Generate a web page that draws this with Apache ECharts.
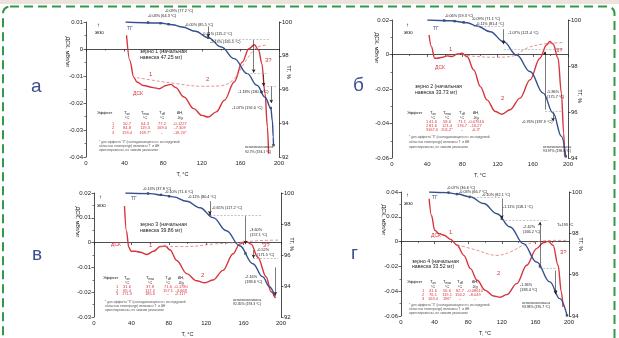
<!DOCTYPE html>
<html>
<head>
<meta charset="utf-8">
<script src="https://cdn.jsdelivr.net/npm/echarts@6/dist/echarts.min.js"></script>
<style>html,body{margin:0;padding:0;background:#fff}#chart{width:619px;height:338px}</style>
</head>
<body>
<div id="chart"></div>
<script>
// ---- панель а (зерно 1) ----
const dscA = [[42,0.0051],[45.4,-0.0042],[49.4,-0.0104],[52.8,-0.0122],[59.5,-0.0135],[69.6,-0.0143],[76.3,-0.0147],[83,-0.0135],[88,-0.0131],[93,-0.0143],[101.5,-0.0178],[111.6,-0.0221],[120,-0.0246],[126.7,-0.0252],[135,-0.0233],[143.5,-0.019],[153.6,-0.0122],[162,-0.0048],[168.7,0.0001],[174.5,0.0016],[179,-0.0005],[182.2,-0.0054],[185.5,-0.0165],[188,-0.0289],[189.2,-0.0388]]
const baseA = [[52.8,-0.0106],[69.6,-0.0116],[93.1,-0.0128],[120,-0.0138],[140.2,-0.0136],[153.6,-0.011],[163.7,-0.0054],[174,-0.0004],[180.7,0.0011],[187.2,0.0014]]
const tgA = [[41,100],[76.3,99.94],[89.7,99.84],[99.8,99.7],[113.3,99.45],[126.7,99.07],[140.2,98.52],[153.6,97.83],[167.1,96.94],[177.1,96.25],[185.5,95.55],[191.5,94.9],[193.2,94.1],[194,93.2],[194.3,92.7]]
const marksA = [[64.3,99.97],[77.2,99.93],[85.5,99.87],[126.7,99.07],[182,95.85],[191.5,94.9],[194.3,92.7]]
const stepsA = [[126.7,99.74,99.1],[173.8,98.95,97.0],[184,96.9,96.2],[192,96.2,95.2]]
const levelsA = [[133,190,98.95],[167,187,96.94],[184,197,96.19]]
const tableA = [['1','50.7','64.3','77.2','-0.1227'],['2','84.8','119.3','169.0','-7.309'],['3','159.4','169.7*','-','-19.20*']]

// ---- панель б (зерно 2) ----
const dscB = [[42.1,0.0113],[44.7,0.0046],[48.5,-0.0022],[51.5,-0.0022],[57.1,-0.0016],[62.8,-0.0008],[68.4,-0.0012],[74.1,0.0003],[79.7,0.0007],[85.3,-0.0012],[92.9,-0.0089],[100.4,-0.0186],[107.9,-0.0263],[117.3,-0.033],[124.8,-0.0346],[134.2,-0.032],[145.5,-0.0253],[156.8,-0.0147],[168,-0.0022],[175.6,0.0055],[179.3,0.0075],[183.1,0.0061],[188.7,-0.0022],[192.5,-0.0224],[195.1,-0.0455],[196.2,-0.059]]
const baseB = [[74.1,0.0003],[96.6,-0.0012],[119.2,-0.0016],[138,-0.0008],[153,0.0036],[171.8,0.0061],[194.4,0.0069]]
const tgB = [[40.2,100],[66.5,99.97],[85.3,99.88],[96.6,99.74],[111.7,99.49],[126.7,99.06],[141.7,98.48],[156.8,97.76],[171.8,96.82],[183.1,95.95],[192.5,94.94],[197.4,94.07]]
const marksB = [[59.3,99.98],[71.1,99.95],[81.4,99.9],[126.7,99.06],[197.4,94.07]]
const stepsB = [[126.7,99.6,98.95],[173.7,96.1,98.63],[183,96.0,95.6]]
const levelsB = [[93,127,99.71],[127,194,98.72],[174,194,96.05]]
const tableB = [['1','41.6','58.6','71.1','-0.07616'],['2','81.6','121.4','176.7','-16.27'],['3','167.0','201.2*','-','-0.3*']]

// ---- панель в (зерно 3) ----
const dscC = [[32.6,0.0147],[34.7,0.0047],[37.2,-0.0019],[39.6,-0.0035],[44.2,-0.0035],[49.6,-0.0039],[56.6,-0.0048],[63.7,-0.0035],[70.8,-0.0016],[76.1,-0.0014],[81.4,-0.003],[88.5,-0.0072],[99.1,-0.0125],[109.7,-0.0154],[118.6,-0.0162],[127.4,-0.0151],[138,-0.0112],[148.7,-0.0045],[155.8,-0.0006],[162.8,0.0005],[168.1,-0.0006],[175.2,-0.0059],[184.1,-0.0138],[189.4,-0.0198],[194,-0.0224]]
const baseC = [[70.8,-0.0016],[99.1,-0.0016],[127.4,-0.0006],[155.8,0.0001],[177,0.0008],[198,0.001]]
const tgC = [[33.6,100],[60.2,99.96],[74.3,99.85],[85,99.75],[99.1,99.47],[113.3,99.05],[127.4,98.41],[141.6,97.56],[155.8,96.6],[169.9,95.44],[180.5,94.59],[187.6,93.95],[192.9,93.42]]
const marksC = [[57.8,99.97],[71.6,99.88],[80.4,99.79],[123.9,98.6],[162,96.1],[192.9,93.42]]
const stepsC = [[123.9,99.47,98.62],[162,98.5,96.7],[170.6,96.3,95.8],[194,95.2,93.4]]
const levelsC = [[124,180,98.55],[170,197,95.8]]
const tableC = [['1','31.6','37.8','71.6','-0.1780'],['2','69.4','117.2','157.1','-3.668'],['3','171.3','185.6','-','-2.117*']]

// ---- панель г (зерно 4) ----
const dscD = [[33.5,0.0346],[36.2,0.0212],[40.2,0.0091],[45.3,0.0064],[51.2,0.0051],[59.1,0.0018],[66.9,-0.003],[74.8,-0.0111],[82.7,-0.0218],[90.6,-0.0312],[100.4,-0.0393],[110.2,-0.0439],[118.1,-0.0449],[126,-0.0428],[137.8,-0.0339],[149.6,-0.0191],[161.4,-0.0057],[169.3,-0.0009],[175.2,0.0002],[181.1,-0.003],[187,-0.0191],[190.9,-0.0406],[192.9,-0.0527]]
const baseD = [[66.9,-0.0025],[90.6,-0.007],[114.2,-0.0111],[129.9,-0.0084],[145.7,-0.003],[165.4,0.0002],[185,0.001],[196.9,0.001]]
const tgD = [[33.5,100],[55.1,99.97],[66.9,99.9],[82.7,99.76],[98.4,99.44],[114.2,98.95],[129.9,98.31],[145.7,97.5],[161.4,96.61],[177.2,95.65],[189,94.84],[197.6,94.03]]
const marksD = [[56.6,99.97],[66.7,99.9],[82.1,99.76],[120,98.71],[165.4,96.4],[184,95.2],[197.6,94.03]]
const stepsD = [[120,99.68,98.71],[165.4,96.45,98.55],[184,96.2,95.05]]
const levelsD = [[82,120,99.75],[120,175,98.63],[165,185,96.29]]
const tableD = [['1','41.6','56.6','82.7','-0.08610'],['2','76.1','119.1','156.2','-8.049'],['3','163.4','196*','-','-']]

// оси: [min, max, interval] для ДСК и ТГ
const dscRange = [[-0.04,0.01,0.01],[-0.06,0.02,0.02],[-0.03,0.02,0.01],[-0.06,0.04,0.02]]
const tgRange = [[92,100,2],[94,100,2],[92,100,2],[94,100,2]]

const RED = '#d8343c', BLUE = '#34508e', FONT = 'Liberation Sans'
const grids = [
  {left: 86, top: 22, width: 193, height: 135},
  {left: 392, top: 20, width: 176, height: 138},
  {left: 94, top: 193, width: 187, height: 126},
  {left: 401, top: 192, width: 168, height: 124}
]

const axisCommon = {
  axisLine: {lineStyle: {color: '#222', width: 0.8}},
  axisTick: {length: 2.5, lineStyle: {color: '#222', width: 0.7}},
  minorTick: {show: true, splitNumber: 2, length: 1.5, lineStyle: {color: '#222', width: 0.6}},
  axisLabel: {fontSize: 6, color: '#222', fontFamily: FONT, margin: 3},
  splitLine: {show: false}
}

const xAxis = [], yAxis = []
for (let i = 0; i < 4; i++) {
  xAxis.push(Object.assign({}, axisCommon, {
    gridIndex: i, type: 'value', min: 0, max: 200, interval: 40,
    name: 'T, °C', nameLocation: 'middle', nameGap: 14,
    nameTextStyle: {fontSize: 5.5, color: '#222', fontFamily: FONT}
  }))
  yAxis.push(Object.assign({}, axisCommon, {
    gridIndex: i, type: 'value', position: 'left',
    min: dscRange[i][0], max: dscRange[i][1], interval: dscRange[i][2]
  }))
  yAxis.push(Object.assign({}, axisCommon, {
    gridIndex: i, type: 'value', position: 'right',
    min: tgRange[i][0], max: tgRange[i][1], interval: tgRange[i][2],
    minorTick: {show: false}
  }))
}

function panelSeries (i, dsc, base, tg, marks, steps, levels) {
  const ml = steps.map(s => [
    {coord: [s[0], s[1]], symbol: 'none'},
    {coord: [s[0], s[2]], symbol: 'arrow'}
  ]).concat(levels.map(l => [
    {coord: [l[0], l[2]], symbol: 'none', lineStyle: {color: '#9a9a9a', type: [2, 1.5], width: 0.6}},
    {coord: [l[1], l[2]], symbol: 'none'}
  ]))
  return [
    {type: 'line', xAxisIndex: i, yAxisIndex: 2 * i, data: dsc, smooth: 0.35, smoothMonotone: 'x',
      showSymbol: false, lineStyle: {color: RED, width: 1.4}},
    {type: 'line', xAxisIndex: i, yAxisIndex: 2 * i, data: base, smooth: 0.4,
      showSymbol: false, lineStyle: {color: '#e07676', width: 0.8, type: [3, 2]}},
    {type: 'line', xAxisIndex: i, yAxisIndex: 2 * i + 1, data: tg, smooth: 0.4, smoothMonotone: 'x',
      showSymbol: false, lineStyle: {color: BLUE, width: 1.4},
      markLine: {silent: true, symbolSize: [3, 3.5], label: {show: false}, animation: false,
        lineStyle: {color: '#222', width: 0.6, type: 'solid'}, data: ml}},
    {type: 'scatter', xAxisIndex: i, yAxisIndex: 2 * i + 1, data: marks, symbol: 'rect',
      symbolSize: 2.4, itemStyle: {color: '#222'}}
  ]
}

const series = [].concat(
  panelSeries(0, dscA, baseA, tgA, marksA, stepsA, levelsA),
  panelSeries(1, dscB, baseB, tgB, marksB, stepsB, levelsB),
  panelSeries(2, dscC, baseC, tgC, marksC, stepsC, levelsC),
  panelSeries(3, dscD, baseD, tgD, marksD, stepsD, levelsD)
)

// подписи
function t (x, y, s, size, color, extra) {
  return {type: 'text', x: x, y: y, z: 100, style: Object.assign({text: s, fontSize: size || 3.8,
    fill: color || '#222', fontFamily: FONT, verticalAlign: 'middle'}, extra || {})}
}
function vt (x, y, s, rot) {
  return {type: 'text', x: x, y: y, rotation: rot, z: 100, style: {text: s, fontSize: 5.5, fill: '#222',
    fontFamily: FONT, align: 'center', verticalAlign: 'middle'}}
}
function table (c, rows) {
  const g = [t(c.x0, c.yh, 'Эффект', 4)]
  const subs = ['on', 'max', 'off']
  subs.forEach((s, k) => {
    g.push({type: 'text', x: c.cols[k], y: c.yh, z: 100, style: {text: '{a|T}{b|' + s + '}', align: 'center',
      verticalAlign: 'middle', fill: '#222', fontFamily: FONT,
      rich: {a: {fontSize: 4.2, fontFamily: FONT}, b: {fontSize: 3, fontFamily: FONT, padding: [3, 0, 0, 0]}}}})
    g.push(t(c.cols[k], c.yh + 5, '°C', 3.8, '#222', {align: 'center'}))
  })
  g.push(t(c.cols[3], c.yh, 'ΔH,', 4, '#222', {align: 'center'}))
  g.push(t(c.cols[3], c.yh + 5, 'J/g', 3.8, '#222', {align: 'center'}))
  rows.forEach((r, j) => {
    g.push(t(c.num, c.ry[j], r[0], 4, RED, {align: 'center'}))
    for (let k = 1; k < 5; k++) g.push(t(c.cols[k - 1], c.ry[j], r[k], 4, RED, {align: 'center'}))
  })
  const foot = ['* для эффекта "3" (накладывающегося с исследуемой',
    'областью температур) величины T  и ΔH',
    'ориентировочны, по нижним указаниям']
  foot.forEach((s, j) => g.push(t(c.x0 + 2, c.fy[j], s, 3.2, '#555')))
  return g
}

const graphic = [
  {type: 'rect', z: 0, shape: {x: 0, y: 0, width: 619, height: 4}, style: {fill: '#ece3dd'}},
  {type: 'rect', z: 1, shape: {x: 3, y: 6.5, width: 611.5, height: 345, r: 7},
    style: {fill: 'none', stroke: '#2f9b4a', lineWidth: 2, lineDash: [9, 5]}},
  t(31, 87, 'а', 19, '#3d4e8e'), t(353, 86, 'б', 19, '#3d4e8e'),
  t(32, 255, 'в', 19, '#3d4e8e'), t(351, 254, 'г', 19, '#3d4e8e'),
  // названия осей
  vt(68, 52, 'ДСК, мВт/мг', -Math.PI / 2), vt(289, 72, 'ТГ, %', -Math.PI / 2),
  vt(377, 48, 'ДСК, мВт/мг', -Math.PI / 2), vt(580, 96, 'ТГ, %', -Math.PI / 2),
  vt(78, 222, 'ДСК, мВт/мг', -Math.PI / 2), vt(292, 244, 'ТГ, %', -Math.PI / 2),
  vt(384, 220, 'ДСК, мВт/мг', -Math.PI / 2), vt(581, 244, 'ТГ, %', -Math.PI / 2),
  // экзо
  t(97, 25, '↑', 6), t(95, 33, 'экзо', 4.5),
  t(406, 25, '↑', 6), t(404, 33, 'экзо', 4.5),
  t(99, 197, '↑', 6), t(97, 206, 'экзо', 4.5),
  t(406, 195, '↑', 6), t(404, 204, 'экзо', 4.5),
  // панель а
  t(127, 29, 'ТГ', 5, BLUE), t(133, 94, 'ДСК', 5, RED), t(149, 74, '1', 6, RED), t(206, 79, '2', 6, RED), t(265, 60, '3?', 6, RED),
  t(140, 52, 'зерно 1 (начальная', 5.2), t(140, 58, 'навеска 47.25 мг)', 5.2),
  t(148, 16, '-0.03% (64.3 °C)'), t(165, 11, '-0.09% (77.2 °C)'), t(185, 25, '-0.05% (85.5 °C)'),
  t(202, 34, '-0.71% (115.2 °C)'), t(210, 42, '-2.13% (165.5 °C)'), t(238, 92, '-1.18% (180.4 °C)'),
  t(232, 108, '-1.07% (192.0 °C)'), t(245, 147, 'остаточная масса', 3.4), t(245, 152, '92.7% (194.1 °C)', 3.4),
  // панель б
  t(433, 29, 'ТГ', 5, BLUE), t(435, 68, 'ДСК', 5, RED), t(449, 49, '1', 6, RED), t(501, 98, '2', 6, RED), t(556, 50, '3?', 6, RED),
  t(415, 87, 'зерно 2 (начальная', 5.2), t(415, 93, 'навеска 33.73 мг)', 5.2),
  t(445, 16, '-0.06% (59.3 °C)'), t(472, 19, '-0.09% (71.1 °C)'), t(476, 24, '-0.11% (81.4 °C)'),
  t(508, 33, '-1.07% (121.4 °C)'), t(547, 92, '-5.86%'), t(547, 97, '(175.7 °C)'),
  t(522, 122, '-0.76% (187.9 °C)'), t(543, 147, 'остаточная масса', 3.4), t(543, 151, '93.97% (198.6 °C)', 3.4),
  // панель в
  t(131, 199, 'ТГ', 5, BLUE), t(111, 245, 'ДСК', 5, RED), t(149, 245, '1', 6, RED), t(201, 275, '2', 6, RED), t(263, 245, '3?', 6, RED),
  t(140, 225, 'зерно 3 (начальная', 5.2), t(140, 231, 'навеска 39.86 мг)', 5.2),
  t(143, 189, '-0.13% (37.8 °C)'), t(165, 192, '-0.10% (71.6 °C)'), t(188, 197, '-0.11% (80.4 °C)'),
  t(212, 208, '-0.65% (117.2 °C)'), t(250, 230, '-3.60%'), t(250, 235, '(157.1 °C)'),
  t(257, 250, '-0.52%'), t(257, 255, '(171.5 °C)'), t(245, 277, '-2.16%'), t(245, 282, '(183.6 °C)'),
  t(233, 300, 'остаточная масса', 3.4), t(233, 304, '92.35% (193.3 °C)', 3.4),
  // панель г
  t(432, 198, 'ТГ', 5, BLUE), t(431, 236, 'ДСК', 5, RED), t(449, 232, '1', 6, RED), t(497, 273, '2', 6, RED), t(560, 252, '3?', 6, RED),
  t(557, 225, 'T=193 °C'),
  t(412, 262, 'зерно 4 (начальная', 5.2), t(412, 267, 'навеска 33.52 мг)', 5.2),
  t(447, 188, '-0.07% (36.6 °C)'), t(459, 192, '-0.03% (66.7 °C)'), t(482, 195, '-0.10% (82.1 °C)'),
  t(503, 207, '-1.11% (118.1 °C)'), t(523, 227, '-2.42%'), t(523, 232, '(166.2 °C)'),
  t(520, 285, '-1.36%'), t(520, 290, '(183.4 °C)'),
  t(522, 303, 'остаточная масса', 3.4), t(522, 307, '93.98% (195.7 °C)', 3.4)
].concat(
  table({x0: 97, yh: 113, cols: [127, 145, 162, 180], num: 113, ry: [124, 128, 133], fy: [142, 146, 150]}, tableA),
  table({x0: 407, yh: 113, cols: [433, 447, 462, 476], num: 427, ry: [122, 126, 130], fy: [137, 142, 147]}, tableB),
  table({x0: 103, yh: 278, cols: [127, 150, 168, 181], num: 117, ry: [287, 290.5, 294], fy: [302, 306, 310]}, tableC),
  table({x0: 407, yh: 282, cols: [433, 447, 460, 475], num: 423, ry: [291, 295, 299], fy: [305, 309, 313]}, tableD)
)

const chart = echarts.init(document.getElementById('chart'), null, {renderer: 'canvas'})
chart.setOption({
  animation: false,
  backgroundColor: '#fff',
  grid: grids,
  xAxis: xAxis,
  yAxis: yAxis,
  series: series,
  graphic: graphic
})
</script>
</body>
</html>
